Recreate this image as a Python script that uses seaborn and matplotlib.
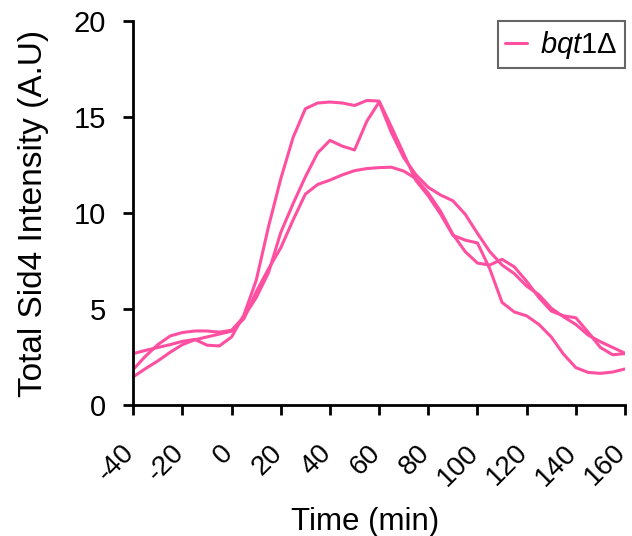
import matplotlib
matplotlib.use("Agg")
import matplotlib.pyplot as plt
import matplotlib.transforms as mtransforms
import numpy as np
import pandas as pd
import seaborn as sns

# Sampling times (min) and total Sid4 intensity for three bqt1Δ cells
time_min = list(range(-40, 165, 5))

cell_1 = [2.68, 2.85, 3.00, 3.15, 3.32, 3.42, 3.12, 3.08, 3.55,
          4.70, 6.50, 9.30, 11.80, 13.95, 15.45, 15.75, 15.80, 15.75, 15.62, 15.88, 15.85,
          14.50, 13.10, 11.70, 10.90, 9.95, 8.85, 8.60, 8.45, 7.10, 5.35, 4.85, 4.65,
          4.20, 3.55, 2.65, 1.95, 1.70, 1.65, 1.72, 1.88]

cell_2 = [1.86, 2.55, 3.15, 3.60, 3.78, 3.86, 3.86, 3.80, 3.90,
          4.60, 5.60, 6.90, 9.00, 10.50, 11.90, 13.15, 13.80, 13.50, 13.30, 14.80, 15.80,
          14.20, 12.90, 12.00, 11.35, 10.95, 10.65, 9.95, 8.95, 8.00, 7.30, 6.85, 6.20,
          5.75, 5.05, 4.60, 4.20, 3.65, 3.30, 3.00, 2.70]

cell_3 = [1.47, 1.90, 2.30, 2.75, 3.15, 3.40, 3.55, 3.70, 3.85,
          4.50, 5.90, 7.10, 8.20, 9.65, 11.00, 11.50, 11.73, 12.00, 12.22, 12.33, 12.38,
          12.40, 12.20, 11.80, 11.05, 10.10, 8.90, 8.00, 7.40, 7.30, 7.60, 7.20, 6.45,
          5.60, 4.90, 4.65, 4.55, 3.80, 3.00, 2.62, 2.68]

strain = "bqt1Δ"
line_color = "#FF4FA0"

x_ticks = list(range(-40, 161, 20))
y_ticks = [0, 5, 10, 15, 20]

df = pd.DataFrame({
    "time": time_min * 3,
    "intensity": cell_1 + cell_2 + cell_3,
    "cell": ["c1"] * len(time_min) + ["c2"] * len(time_min) + ["c3"] * len(time_min),
    "strain": [strain] * (3 * len(time_min)),
})

sns.set_style("ticks")
plt.rcParams["font.family"] = ["Liberation Sans", "DejaVu Sans"]
plt.rcParams["axes.unicode_minus"] = False
plt.rcParams["mathtext.fontset"] = "custom"
plt.rcParams["mathtext.it"] = "Liberation Sans:italic"
plt.rcParams["mathtext.rm"] = "Liberation Sans"
plt.rcParams["text.color"] = "black"
plt.rcParams["axes.labelcolor"] = "black"
plt.rcParams["xtick.color"] = "black"
plt.rcParams["ytick.color"] = "black"

fig = plt.figure(figsize=(6.32, 5.36), dpi=100)
ax = fig.add_axes([0.2109, 0.2444, 0.7780, 0.7155])

sns.lineplot(data=df, x="time", y="intensity", hue="strain", units="cell",
             estimator=None, palette={strain: line_color}, linewidth=2.2,
             ax=ax, legend=False)
for ln in ax.get_lines():
    ln.set_solid_joinstyle("round")
    ln.set_solid_capstyle("round")

ax.set_xlim(-40, 160)
ax.set_ylim(0, 20)
ax.set_xticks(x_ticks)
ax.set_yticks(y_ticks)
ax.set_xticklabels([str(v) for v in x_ticks], rotation=45, ha="right",
                   va="center", rotation_mode="anchor", fontsize=20)
ax.set_yticklabels([str(v) for v in y_ticks], fontsize=21)
ax.tick_params(axis="both", direction="out", length=7.5, width=2.0,
               color="black", labelcolor="black")
ax.tick_params(axis="y", pad=12)
ax.tick_params(axis="x", pad=24)

# nudge the slanted time labels slightly left so the last one stays inside
shift = mtransforms.ScaledTranslation(-2 / 72, 0, fig.dpi_scale_trans)
for lbl in ax.get_xticklabels():
    lbl.set_transform(lbl.get_transform() + shift)

for side in ("top", "right"):
    ax.spines[side].set_visible(False)
for side in ("left", "bottom"):
    ax.spines[side].set_color("black")
    ax.spines[side].set_linewidth(2.0)

ax.set_xlabel("Time (min)", fontsize=22.5)
ax.set_ylabel("Total Sid4 Intensity (A.U)", fontsize=24)
ax.xaxis.set_label_coords(0.471, -0.265)
ax.yaxis.set_label_coords(-0.172, 0.5)

handle = plt.Line2D([], [], color=line_color, linewidth=2.2)
leg = ax.legend([handle], [r"$\mathit{bqt1}$Δ"], loc="upper right",
                bbox_to_anchor=(1.0, 1.0), borderaxespad=0.0, fontsize=21,
                frameon=True, fancybox=False, handlelength=0.75,
                handletextpad=0.45, borderpad=0.25)
leg.get_frame().set_edgecolor("#404040")
leg.get_frame().set_linewidth(1.5)

fig.savefig("out.png", dpi=100, facecolor="white")
